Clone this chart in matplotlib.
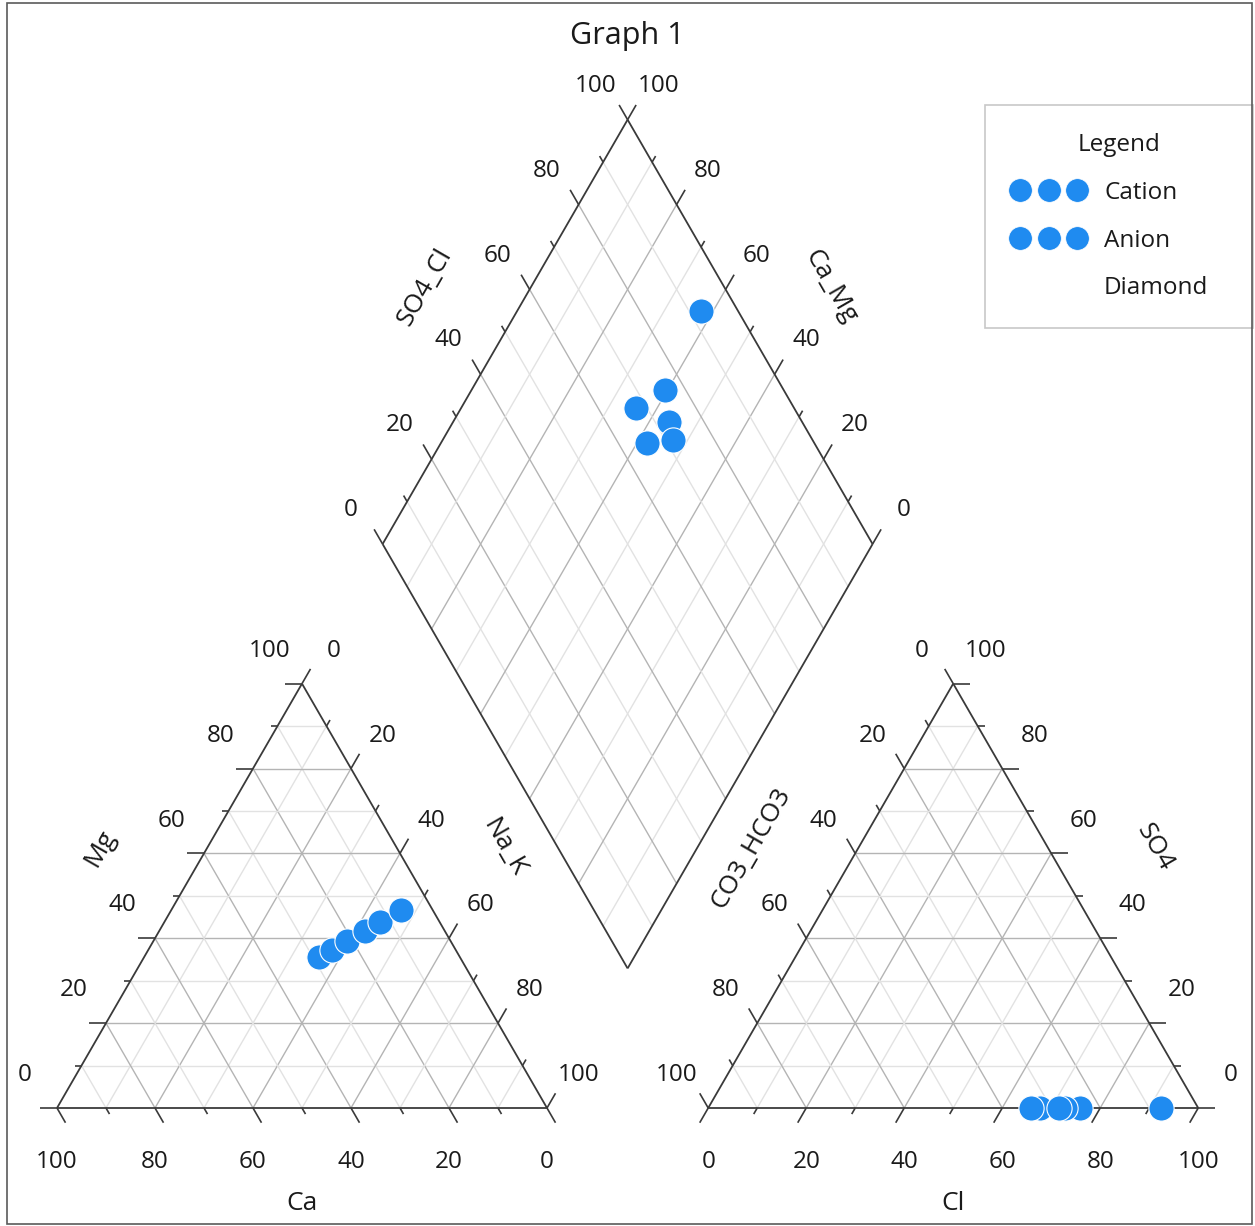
"""
Piper diagram "Graph 1": cation / anion ternaries plus the central diamond.
Output: out.png (1255x1226)
"""
import numpy as np
import matplotlib
matplotlib.use("Agg")
import matplotlib.pyplot as plt
from matplotlib.lines import Line2D
from matplotlib.patches import Rectangle

plt.rcParams["font.family"] = ["Open Sans", "DejaVu Sans"]

# --- sample data (percent of meq) ---
ca = [28.7, 25.2, 21.1, 16.2, 12.1, 6.5]
mg = [35.7, 37.2, 39.4, 41.8, 43.8, 46.6]
na_k = [35.6, 37.6, 39.5, 42.0, 44.1, 46.9]
cl = [67.7, 92.4, 75.8, 65.8, 72.8, 71.5]
so4 = [0.0, 0.0, 0.0, 0.0, 0.0, 0.0]
co3_hco3 = [32.3, 7.6, 24.2, 34.2, 27.2, 28.5]

tick_values = [0, 20, 40, 60, 80, 100]

# --- geometry (units: triangle side = 100) ---
H = np.sqrt(3) / 2
GAP = 32.9
OX = 100 + GAP                     # x offset of the anion triangle
BX, BY = 100 + GAP / 2, GAP * H    # bottom vertex of the diamond

PX = 4.9                           # pixels per unit
W, HGT = 1255, 1226
X0, Y0 = 57, 1108                  # pixel position of the left-triangle Ca corner

BLUE = "#1f8bf0"
EDGE = "#3a3a3a"
MAJ = "#b4b4b4"
MIN = "#e2e2e2"
TXT = "#1a1a1a"
FS = 17.5


def cat_xy(c, m, n):
    c, m, n = np.asarray(c, float), np.asarray(m, float), np.asarray(n, float)
    return n + m / 2, m * H


def an_xy(h, s, l):
    h, s, l = np.asarray(h, float), np.asarray(s, float), np.asarray(l, float)
    return OX + l + s / 2, s * H


def dia_xy(s, c):
    s, c = np.asarray(s, float), np.asarray(c, float)
    return BX + 0.5 * (s - c), BY + H * (s + c)


def seg(ax, p, q, color, lw, z=1):
    ax.plot([p[0], q[0]], [p[1], q[1]], color=color, lw=lw, zorder=z,
            solid_capstyle="butt")


fig = plt.figure(figsize=(W / 100, HGT / 100), dpi=100)
ax = fig.add_axes([0, 0, 1, 1])
ax.set_xlim(-X0 / PX, (W - X0) / PX)
ax.set_ylim(-(HGT - Y0) / PX, Y0 / PX)
ax.axis("off")

# --- grids ---
for v in range(10, 100, 10):
    col = MAJ if v % 20 == 0 else MIN
    lw = 1.0
    # cation triangle
    seg(ax, cat_xy(100 - v, v, 0), cat_xy(0, v, 100 - v), col, lw)
    seg(ax, cat_xy(100 - v, 0, v), cat_xy(0, 100 - v, v), col, lw)
    seg(ax, cat_xy(v, 0, 100 - v), cat_xy(v, 100 - v, 0), col, lw)
    # anion triangle
    seg(ax, an_xy(100 - v, v, 0), an_xy(0, v, 100 - v), col, lw)
    seg(ax, an_xy(100 - v, 0, v), an_xy(0, 100 - v, v), col, lw)
    seg(ax, an_xy(v, 0, 100 - v), an_xy(v, 100 - v, 0), col, lw)
    # diamond
    seg(ax, dia_xy(v, 0), dia_xy(v, 100), col, lw)
    seg(ax, dia_xy(0, v), dia_xy(100, v), col, lw)

# --- outlines ---
for p, q in [(cat_xy(100, 0, 0), cat_xy(0, 0, 100)),
             (cat_xy(100, 0, 0), cat_xy(0, 100, 0)),
             (cat_xy(0, 100, 0), cat_xy(0, 0, 100)),
             (an_xy(100, 0, 0), an_xy(0, 0, 100)),
             (an_xy(100, 0, 0), an_xy(0, 100, 0)),
             (an_xy(0, 100, 0), an_xy(0, 0, 100)),
             (dia_xy(0, 0), dia_xy(100, 0)),
             (dia_xy(0, 0), dia_xy(0, 100)),
             (dia_xy(0, 100), dia_xy(100, 100)),
             (dia_xy(100, 0), dia_xy(100, 100))]:
    seg(ax, p, q, EDGE, 1.3, 2)

# --- ticks: extensions of grid lines outward ---
MAJ_LEN, MIN_LEN = 17 / PX, 7 / PX
axes_spec = [
    # (edge point function, outward direction, label offset)
    (lambda v: cat_xy(100 - v, v, 0), (-1, 0), (-6.6, 6.7)),          # Mg
    (lambda v: cat_xy(0, 100 - v, v), (0.5, H), (6.4, 6.7)),          # Na_K
    (lambda v: cat_xy(v, 0, 100 - v), (0.5, -H), (0, -11.0)),         # Ca
    (lambda v: an_xy(v, 100 - v, 0), (-0.5, H), (-6.4, 6.7)),         # CO3_HCO3
    (lambda v: an_xy(0, v, 100 - v), (1, 0), (6.6, 6.7)),             # SO4
    (lambda v: an_xy(100 - v, 0, v), (-0.5, -H), (0, -11.0)),         # Cl
    (lambda v: dia_xy(v, 100), (-0.5, H), (-6.6, 6.9)),               # SO4_Cl
    (lambda v: dia_xy(100, v), (0.5, H), (6.4, 6.9)),                 # Ca_Mg
]
for fn, (dx, dy), (lx, ly) in axes_spec:
    for v in range(0, 101, 10):
        x, y = fn(v)
        ln = MAJ_LEN if v % 20 == 0 else MIN_LEN
        seg(ax, (x, y), (x + dx * ln, y + dy * ln), EDGE, 1.2, 2)
    for v in tick_values:
        x, y = fn(v)
        ax.text(x + lx, y + ly, str(v), ha="center", va="center",
                fontsize=FS, color=TXT)

# --- axis titles ---
titles = [
    ("Ca", cat_xy(50, 0, 50), (0, -19.4), 0),
    ("Cl", an_xy(50, 0, 50), (0, -19.4), 0),
    ("Mg", cat_xy(50, 50, 0), (-16.2, 9.8), 60),
    ("Na_K", cat_xy(0, 50, 50), (16.2, 9.8), -60),
    ("CO3_HCO3", an_xy(50, 50, 0), (-16.2, 9.8), 60),
    ("SO4", an_xy(0, 50, 50), (16.2, 9.8), -60),
    ("SO4_Cl", dia_xy(50, 100), (-16.3, 9.2), 60),
    ("Ca_Mg", dia_xy(100, 50), (16.3, 9.2), -60),
]
for txt, (x, y), (ox, oy), rot in titles:
    ax.text(x + ox, y + oy, txt, ha="center", va="center", rotation=rot,
            rotation_mode="anchor", fontsize=FS + 1.5, color=TXT)

ax.text(BX, (Y0 - 36) / PX, "Graph 1", ha="center", va="center",
        fontsize=22, color=TXT)

# --- data points ---
mk = dict(s=330, color=BLUE, edgecolors="white", linewidths=0.8, zorder=5)
cx, cy = cat_xy(ca, mg, na_k)
ax.scatter(cx, cy, **mk)
axx, ayy = an_xy(co3_hco3, so4, cl)
ax.scatter(axx, ayy, **mk)
dx_, dy_ = dia_xy(np.asarray(so4) + np.asarray(cl),
                  np.asarray(ca) + np.asarray(mg))
ax.scatter(dx_, dy_, **mk)

# --- legend ---
handles = [
    Line2D([], [], ls="none", marker="o", ms=17, color=BLUE, mec="white", mew=0.5),
    Line2D([], [], ls="none", marker="o", ms=17, color=BLUE, mec="white", mew=0.5),
    Line2D([], [], ls="none", marker="none"),
]
leg = ax.legend(handles, ["Cation", "Anion", "Diamond"], numpoints=3,
                title="Legend", fontsize=FS, title_fontsize=FS,
                loc="upper left",
                bbox_to_anchor=(985 / W, 1 - 320 / HGT, 268 / W, 215 / HGT),
                bbox_transform=fig.transFigure, borderaxespad=0, mode="expand",
                handlelength=2.95, handletextpad=0.8, labelspacing=0.98,
                borderpad=1.15, fancybox=False, framealpha=1)
leg.get_frame().set_edgecolor("#c8c8c8")
leg.get_frame().set_linewidth(1.2)
for t in leg.get_texts():
    t.set_color(TXT)
leg.get_title().set_color(TXT)

# --- outer frame ---
fig.patches.append(Rectangle((7 / W, 2 / HGT), 1245 / W, 1221 / HGT,
                             transform=fig.transFigure, fill=False,
                             edgecolor="#5a5a5a", lw=1.2))

fig.savefig("out.png", dpi=100)
